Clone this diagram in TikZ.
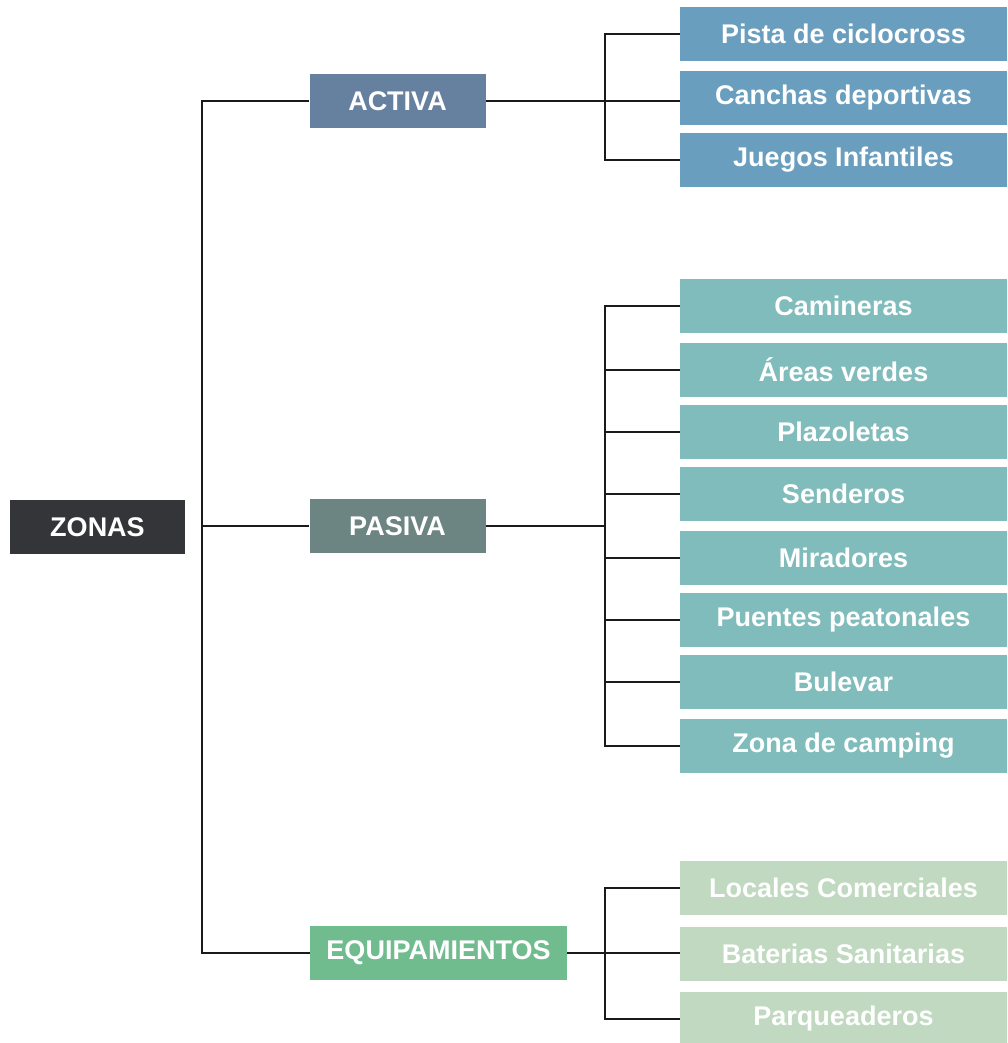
\documentclass[tikz,border=0pt]{standalone}
\usepackage{fontspec}
\setmainfont{Liberation Sans}

\definecolor{zonascol}{HTML}{333538}
\definecolor{activacol}{HTML}{66809F}
\definecolor{activaitem}{HTML}{6A9EBE}
\definecolor{pasivacol}{HTML}{6C8482}
\definecolor{pasivaitem}{HTML}{80BCBB}
\definecolor{equipcol}{HTML}{71BC8F}
\definecolor{equipitem}{HTML}{C0D9C0}
\definecolor{linecol}{HTML}{1A1A1A}

\begin{document}
\begin{tikzpicture}[x=0.5pt,y=-0.5pt,
        zbox/.style={rectangle,inner sep=0pt,minimum height=27pt,text=white,
            font=\fontsize{13.5}{16}\selectfont\bfseries},
        item/.style={zbox,minimum width=163.5pt},
        link/.style={draw=linecol,line width=1.1pt}]

    \useasboundingbox (0,0) rectangle (1007,1043);

    \node[zbox,fill=zonascol,minimum width=87.5pt] (zonas) at (97.5,527) {ZONAS};
    \node[zbox,fill=activacol,minimum width=88pt] (activa) at (397.5,101) {ACTIVA};
    \node[zbox,fill=pasivacol,minimum width=88pt] (pasiva) at (397.5,526) {PASIVA};
    \node[zbox,fill=equipcol,minimum width=128.5pt] (equip) at (438.5,953) {EQUIPAMIENTOS};

    % activa
    \node[item,fill=activaitem] (a1) at (843.5,34) {Pista de ciclocross};
    \node[item,fill=activaitem] (a2) at (843.5,98) {Canchas deportivas};
    \node[item,fill=activaitem] (a3) at (843.5,160) {Juegos Infantiles};

    % pasiva
    \node[item,fill=pasivaitem] (p1) at (843.5,306) {Camineras};
    \node[item,fill=pasivaitem] (p2) at (843.5,370) {Áreas verdes};
    \node[item,fill=pasivaitem] (p3) at (843.5,432) {Plazoletas};
    \node[item,fill=pasivaitem] (p4) at (843.5,494) {Senderos};
    \node[item,fill=pasivaitem] (p5) at (843.5,558) {Miradores};
    \node[item,fill=pasivaitem] (p6) at (843.5,620) {Puentes peatonales};
    \node[item,fill=pasivaitem] (p7) at (843.5,682) {Bulevar};
    \node[item,fill=pasivaitem] (p8) at (843.5,746) {Zona de camping};

    % equipamientos
    \node[item,fill=equipitem] (e1) at (843.5,888) {Locales Comerciales};
    \node[item,fill=equipitem] (e2) at (843.5,954) {Baterias Sanitarias};
    \node[item,fill=equipitem] (e3) at (843.5,1019) {Parqueaderos};

    \coordinate (trunk) at (202,526);
    \coordinate (abar) at (605,101);
    \coordinate (pbar) at (605,526);
    \coordinate (ebar) at (605,953);

    \draw[link] (activa.west) -| (trunk) |- (equip.west);
    \draw[link] (trunk) -- (pasiva.west);

    \draw[link] (activa.east) -- (a2.west |- activa.east);
    \draw[link] (a1.west) -| (abar) |- (a3.west);

    \draw[link] (pasiva.east) -- (pbar);
    \draw[link] (p1.west) -| (pbar) |- (p8.west);
    \foreach \i in {2,...,7}
        \draw[link] (p\i.west) -- (pbar |- p\i.west);

    \draw[link] (equip.east) -- (e2.west |- equip.east);
    \draw[link] (e1.west) -| (ebar) |- (e3.west);
\end{tikzpicture}
\end{document}
